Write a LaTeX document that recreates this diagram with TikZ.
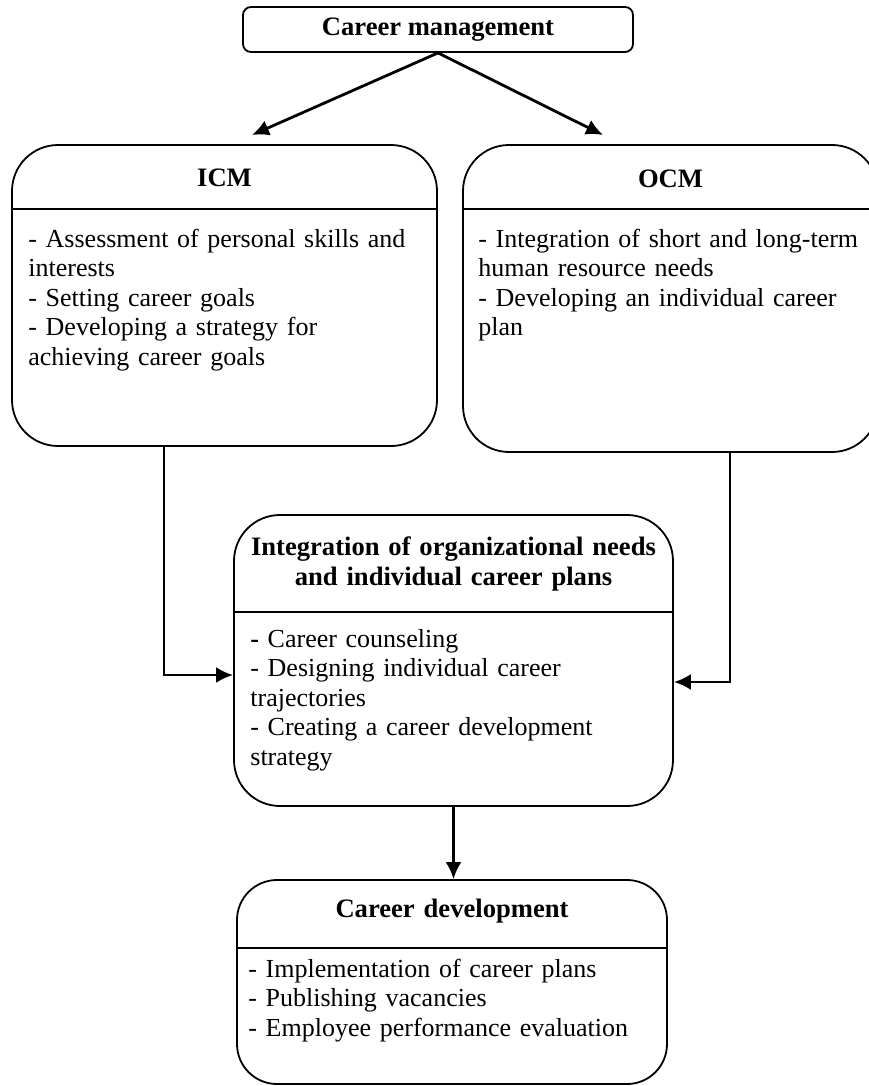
\documentclass[tikz,border=0pt]{standalone}
\usepackage{fontspec}
\setmainfont{Liberation Serif}
\usetikzlibrary{arrows.meta, positioning}

\begin{document}
\begin{tikzpicture}[x=0.5pt, y=-0.5pt, >={Latex[length=8.5pt, width=8pt]},
    box/.style={draw, line width=0.9pt, inner sep=0pt},
    bigbox/.style={box, rounded corners=23pt},
    title/.style={font=\fontsize{13.3}{15}\selectfont\bfseries, anchor=base, inner sep=0pt, text width=215pt, align=center},
    body/.style={font=\fontsize{13}{14.8}\selectfont, anchor=base west, inner sep=0pt, text width=212pt, align=left},
    arr/.style={->, line width=1.4pt}]
    \useasboundingbox (0,0) rectangle (868,1086);

    % Khung tren cung
    \node[box, rounded corners=4pt, minimum width=195pt, minimum height=22.5pt,
          font=\fontsize{13.3}{15}\selectfont\bfseries] (cm) at (438,29.5) {Career management};

    % ICM va OCM
    \node[bigbox, minimum width=212.5pt, minimum height=150.5pt] (icm) at (224.5,295.5) {};
    \node[bigbox, minimum width=207.5pt, minimum height=153.5pt] (ocm) at (670.5,298.5) {};
    \coordinate (cut1) at (0,209);
    \draw[line width=0.9pt] (icm.west |- cut1) -- (icm.east |- cut1);
    \draw[line width=0.9pt] (ocm.west |- cut1) -- (ocm.east |- cut1);
    \node[title] (icmt) at (224.5,186) {ICM};
    \node[title] (ocmt) at (670.5,187) {OCM};
    \node[body] (icmb) at (28,247) {- Assessment of personal skills and\\
        interests\\- Setting career goals\\- Developing a strategy for\\achieving career goals};
    \node[body] (ocmb) at (478,247) {- Integration of short and long-term\\
        human resource needs\\- Developing an individual career\\plan};

    % Khung tich hop
    \node[bigbox, minimum width=219.5pt, minimum height=145.5pt] (integ) at (453.5,660.5) {};
    \coordinate (cut2) at (0,612);
    \draw[line width=0.9pt] (integ.west |- cut2) -- (integ.east |- cut2);
    \node[title] (integt) at (453.5,555) {Integration of organizational needs\\and individual career plans};
    \node[body] (integb) at (250,647) {{\bfseries -} Career counseling\\- Designing individual career\\
        trajectories\\- Creating a career development\\strategy};

    % Phat trien su nghiep
    \node[box, rounded corners=20pt, minimum width=215pt, minimum height=102pt] (cdev) at (452,982) {};
    \coordinate (cut3) at (0,948);
    \draw[line width=0.9pt] (cdev.west |- cut3) -- (cdev.east |- cut3);
    \node[title] (cdevt) at (452,917) {Career development};
    \node[body] (cdevb) at (248,977) {- Implementation of career plans\\- Publishing vacancies\\
        - Employee performance evaluation};

    % Cac mui ten
    \coordinate (icmin) at (252,135);
    \coordinate (ocmin) at (603,135);
    \coordinate (lj) at (164,675);
    \coordinate (rj) at (730,682);
    \draw[arr] (cm.south) -- (icmin);
    \draw[arr] (cm.south) -- (ocmin);
    \draw[arr] (icm.south -| lj) |- (integ.west |- lj);
    \draw[arr] (ocm.south -| rj) |- (integ.east |- rj);
    \draw[arr] (integ.south) -- (integ.south |- cdev.north);
\end{tikzpicture}
\end{document}
